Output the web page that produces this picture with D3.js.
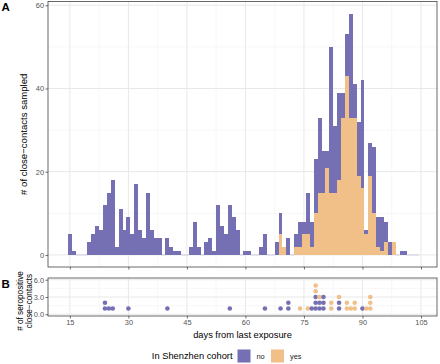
<!DOCTYPE html>
<html>
<head>
<meta charset="utf-8">
<script src="https://cdn.jsdelivr.net/npm/d3@7"></script>
<style>
  body { margin: 0; background: #fff; }
  text { font-family: "Liberation Sans", Arial, sans-serif; }
</style>
</head>
<body>
<div id="chart"></div>
<script>
// Panel A: close-contacts sampled per day since last exposure
const days = [15,16,17,18,19,20,21,22,23,24,25,26,27,28,29,30,31,32,33,34,35,36,37,38,39,40,
  41,42,43,44,45,46,47,48,49,50,51,52,53,54,55,56,57,58,59,60,61,62,63,64,65,66,67,68,69,70,
  71,72,73,74,75,76,77,78,79,80,81,82,83,84,85,86,87,88,89,90,91,92,93,94,95,96,97,98,99,100,
  101,102,103,104];
const countNo = [5,1,0,0,0,
  3,5,7,6,12,15,18,2,11,6,
  9,5,17,6,4,15,6,4,4,0,
  4,2,1,1,0,0,2,8,2,0,
  3,4,1,12,7,5,12,9,6,0,
  1,1,0,0,2,5,0,0,3,5,
  0,4,0,3,6,3,10,6,13,18,
  10,4,35,16,21,6,10,25,8,13,
  26,1,8,16,7,8,5,3,0,0,
  1,1,0,0,0];
const countYes = [0,0,0,0,0,
  0,0,0,0,0,0,0,0,0,0,
  0,0,0,0,0,0,0,0,0,0,
  0,0,0,0,0,0,0,0,0,0,
  0,0,0,0,0,0,0,0,0,0,
  0,0,0,0,0,0,0,0,0,5,
  2,0,0,2,2,5,5,2,10,15,
  15,21,15,15,18,33,43,33,33,19,
  16,5,19,10,2,1,3,0,3,0,
  0,0,0,0,0];

// Panel B: seropositive close-contacts
const seroDays = [24,25,26,30,40,56,65,69,71,74,76,77,78,79,80,82,84,86,87,88,90,91,92];
const seroNo   = [2,1,1,1,1,1,1,1,2,0,0,1,3,2,3,0,2,0,0,0,1,0,0];
const seroYes  = [0,0,0,0,0,0,0,0,0,1,1,0,2,1,0,2,1,2,1,2,0,1,3];

const xTicks = [15,30,45,60,75,90,105];
const yTicksA = [0,20,40,60];
const yTicksB = [0,3,6];
const groups = ['no','yes'];
const colors = { no: '#7570b3', yes: '#f0c088' };

const width = 440, height = 364;
const panelA = { left: 48, right: 437, top: 1.5, bottom: 267 };
const panelB = { left: 48, right: 437, top: 278, bottom: 316 };

const svg = d3.select('#chart').append('svg')
  .attr('width', width)
  .attr('height', height);

// shared x scale, per-panel y scales
const x = d3.scaleLinear().domain([9.4, 109.1]).range([panelA.left, panelA.right]);
const yA = d3.scaleLinear().domain([-2.9, 60.9]).range([panelA.bottom, panelA.top]);
const yB = d3.scaleLinear().domain([-0.3, 6.3]).range([panelB.bottom, panelB.top]);

const mids = arr => d3.pairs(arr).map(([a, b]) => (a + b) / 2);

function drawGrid(p, y, yMajor) {
  const g = svg.append('g');
  g.selectAll('.minx').data(mids(xTicks)).join('line')
    .attr('x1', d => x(d)).attr('x2', d => x(d))
    .attr('y1', p.top).attr('y2', p.bottom)
    .attr('stroke', '#f2f2f2').attr('stroke-width', 0.6);
  g.selectAll('.miny').data(mids(yMajor)).join('line')
    .attr('x1', p.left).attr('x2', p.right)
    .attr('y1', d => y(d)).attr('y2', d => y(d))
    .attr('stroke', '#f2f2f2').attr('stroke-width', 0.6);
  g.selectAll('.majx').data(xTicks).join('line')
    .attr('x1', d => x(d)).attr('x2', d => x(d))
    .attr('y1', p.top).attr('y2', p.bottom)
    .attr('stroke', '#e8e8e8').attr('stroke-width', 1);
  g.selectAll('.majy').data(yMajor).join('line')
    .attr('x1', p.left).attr('x2', p.right)
    .attr('y1', d => y(d)).attr('y2', d => y(d))
    .attr('stroke', '#e8e8e8').attr('stroke-width', 1);
}

function drawBorder(p) {
  svg.append('rect')
    .attr('x', p.left).attr('y', p.top)
    .attr('width', p.right - p.left).attr('height', p.bottom - p.top)
    .attr('fill', 'none').attr('stroke', '#444').attr('stroke-width', 0.8);
}

function styleAxis(g) {
  g.select('.domain').remove();
  g.selectAll('.tick line').attr('stroke', '#333').attr('stroke-width', 0.7);
  g.selectAll('.tick text')
    .attr('fill', '#555')
    .style('font-size', '7.4px');
}

// ---- Panel A ----
drawGrid(panelA, yA, yTicksA);

const bins = days.map((d, i) => ({ day: d, yes: countYes[i], no: countNo[i] }));
const stacked = d3.stack().keys(['yes', 'no'])(bins);

// faint outline of empty bins along the baseline
svg.append('g').selectAll('rect')
  .data(bins.filter(b => b.yes + b.no === 0))
  .join('rect')
  .attr('x', d => x(d.day - 0.5))
  .attr('width', d => x(d.day + 0.5) - x(d.day - 0.5))
  .attr('y', yA(0) - 0.5)
  .attr('height', 1)
  .attr('fill', '#cfcce6');

svg.append('g')
  .attr('shape-rendering', 'crispEdges')
  .selectAll('g')
  .data(stacked)
  .join('g')
  .attr('fill', s => colors[s.key])
  .selectAll('rect')
  .data(s => s.filter(v => v[1] > v[0]))
  .join('rect')
  .attr('x', v => x(v.data.day - 0.5))
  .attr('width', v => x(v.data.day + 0.5) - x(v.data.day - 0.5))
  .attr('y', v => yA(v[1]))
  .attr('height', v => yA(v[0]) - yA(v[1]));

drawBorder(panelA);

svg.append('g')
  .attr('transform', `translate(${panelA.left},0)`)
  .call(d3.axisLeft(yA).tickValues(yTicksA).tickSize(2.5).tickPadding(1.5))
  .call(styleAxis);

svg.append('g')
  .attr('transform', `translate(0,${panelA.bottom})`)
  .call(d3.axisBottom(x).tickValues(xTicks).tickSize(2.5).tickFormat(''))
  .call(styleAxis);

svg.append('text')
  .attr('transform', `translate(27,${(panelA.top + panelA.bottom) / 2}) rotate(-90)`)
  .attr('text-anchor', 'middle')
  .style('font-size', '9.6px')
  .text('# of close\u2212contacts sampled');

// ---- Panel B ----
drawGrid(panelB, yB, yTicksB);

const dots = [];
seroDays.forEach((d, i) => {
  for (let k = 1; k <= seroNo[i]; k++) dots.push({ day: d, n: k, group: 'no' });
  for (let k = 1; k <= seroYes[i]; k++) dots.push({ day: d, n: seroNo[i] + k, group: 'yes' });
});

svg.append('g').selectAll('circle')
  .data(dots)
  .join('circle')
  .attr('cx', d => x(d.day))
  .attr('cy', d => yB(d.n))
  .attr('r', 2.3)
  .attr('fill', d => colors[d.group]);

drawBorder(panelB);

svg.append('g')
  .attr('transform', `translate(${panelB.left},0)`)
  .call(d3.axisLeft(yB).tickValues(yTicksB).tickSize(2.5).tickPadding(1.5))
  .call(styleAxis);

svg.append('g')
  .attr('transform', `translate(0,${panelB.bottom})`)
  .call(d3.axisBottom(x).tickValues(xTicks).tickSize(2.5).tickPadding(1.5))
  .call(styleAxis);

const bTitle = svg.append('text')
  .attr('transform', `translate(0,${(panelB.top + panelB.bottom) / 2 + 4}) rotate(-90)`)
  .attr('text-anchor', 'middle')
  .style('font-size', '8.2px');
bTitle.append('tspan').attr('x', 0).attr('y', 22.5).text('# of seropositive');
bTitle.append('tspan').attr('x', 0).attr('y', 32).text('close\u2212contacts');

// x-axis title
svg.append('text')
  .attr('x', (panelB.left + panelB.right) / 2)
  .attr('y', 338)
  .attr('text-anchor', 'middle')
  .style('font-size', '9.3px')
  .text('days from last exposure');

// panel tags
svg.append('text').attr('x', 1.5).attr('y', 10.5)
  .style('font-size', '11.5px').style('font-weight', 'bold').text('A');
svg.append('text').attr('x', 1.5).attr('y', 288)
  .style('font-size', '11.5px').style('font-weight', 'bold').text('B');

// ---- Legend ----
const legend = svg.append('g');
legend.append('text')
  .attr('x', 232.5).attr('y', 359)
  .attr('text-anchor', 'end')
  .style('font-size', '9.3px')
  .text('In Shenzhen cohort');

const keyX = { no: 237.5, yes: 271 };
groups.forEach(gname => {
  legend.append('rect')
    .attr('x', keyX[gname]).attr('y', 349.5)
    .attr('width', 13).attr('height', 13)
    .attr('fill', colors[gname]);
  legend.append('text')
    .attr('x', keyX[gname] + 19).attr('y', 358.5)
    .style('font-size', '7.4px')
    .attr('fill', '#222')
    .text(gname);
});
</script>
</body>
</html>
